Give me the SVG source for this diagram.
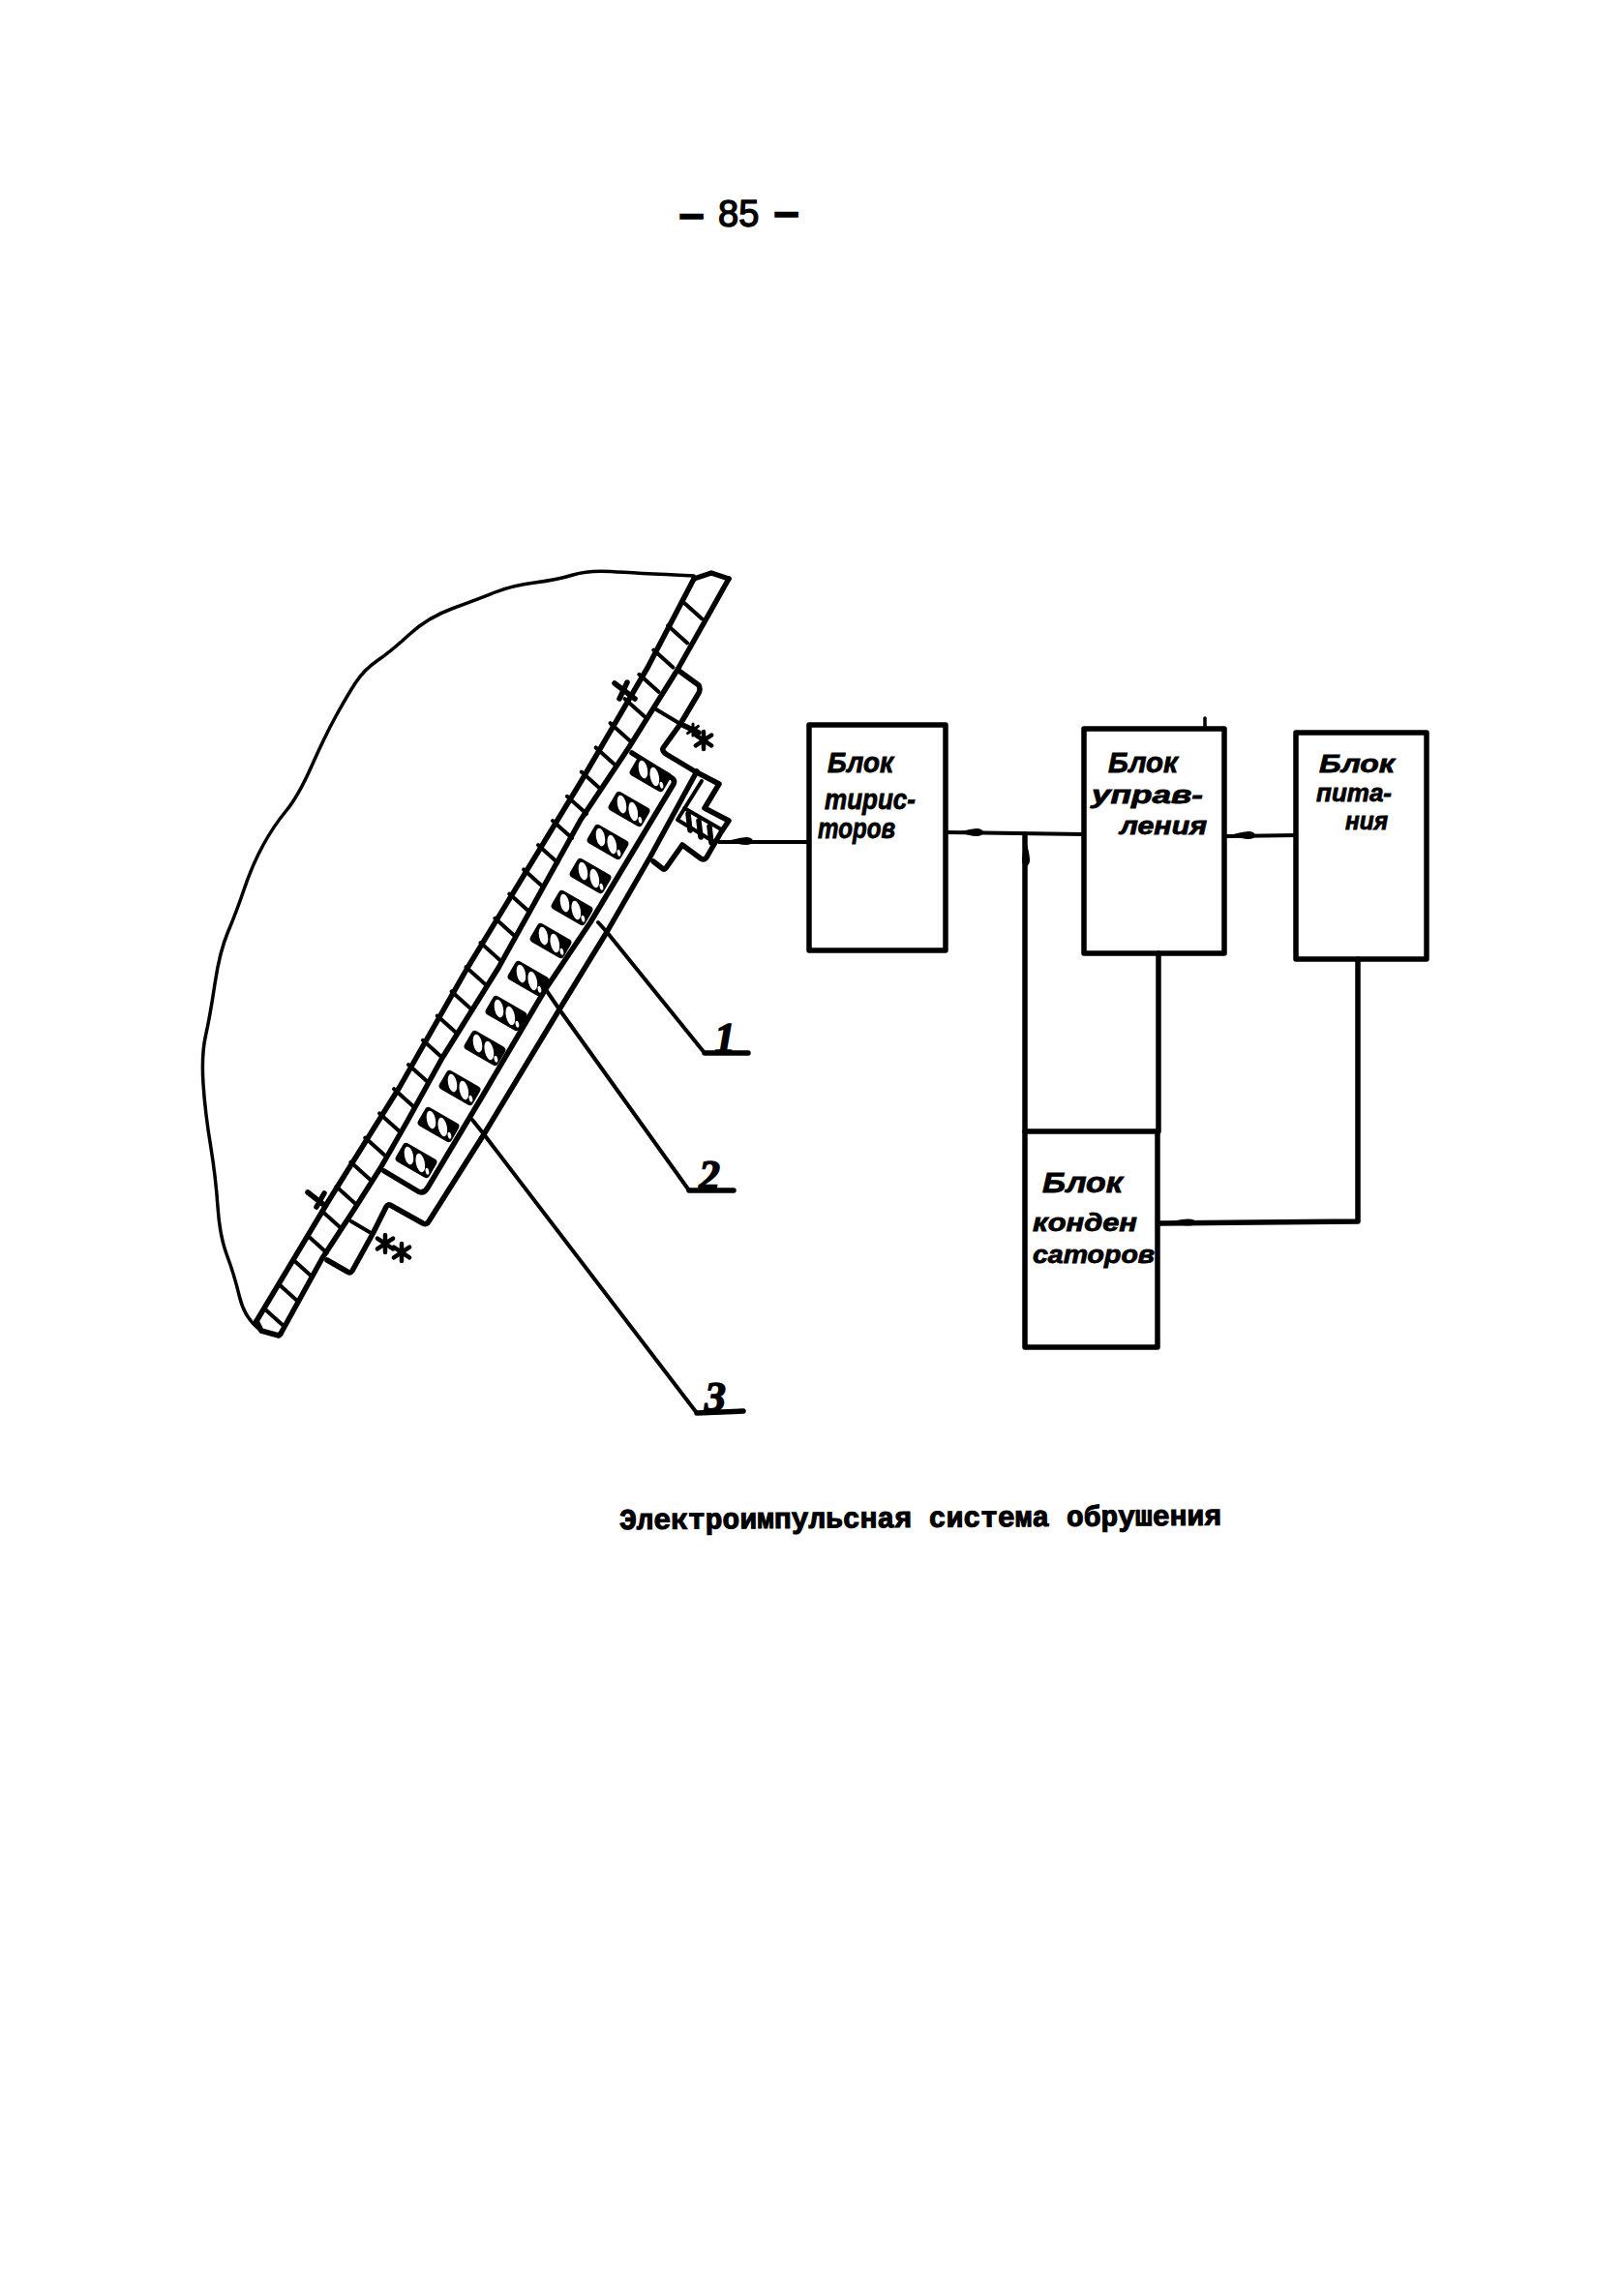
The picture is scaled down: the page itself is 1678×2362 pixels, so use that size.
<svg xmlns="http://www.w3.org/2000/svg" width="1678" height="2362" viewBox="0 0 1678 2362">
<style>
.l{fill:none;stroke:#000;stroke-linejoin:round;stroke-linecap:round}
.w{stroke-width:5.5}
.t{stroke-width:4}
.n{stroke-width:3.5}
.box{fill:none;stroke:#000;stroke-width:5.5;stroke-linejoin:round}
.h{font-family:"Liberation Sans","DejaVu Sans",sans-serif;font-weight:700;font-style:italic;font-size:30px;fill:#000;stroke:#000;stroke-width:.8}
.s{font-size:26px}
.d{font-family:"Liberation Serif","DejaVu Serif",serif;font-weight:700;font-style:italic;font-size:44px;fill:#000;stroke:#000;stroke-width:1.5}
.p{font-family:"Liberation Sans","DejaVu Sans",sans-serif;font-size:38px;fill:#000;stroke:#000;stroke-width:1.4}
.pd{stroke-width:3.5}
.c{font-family:"Liberation Mono","DejaVu Sans Mono",monospace;font-weight:700;font-size:30px;fill:#000;stroke:#000;stroke-width:1.1}
</style>
<defs>
<g id="coil">
<rect x="-20" y="-11" width="40" height="22" rx="4" fill="#000"/>
<ellipse cx="-9" cy="-0.500" rx="4.500" ry="9.500" fill="#fff" transform="rotate(-42 -9 -0.500)"/>
<ellipse cx="5" cy="0" rx="4.500" ry="10" fill="#fff" transform="rotate(-42 5 0)"/>
<ellipse cx="15.500" cy="4" rx="1.800" ry="3.500" fill="#fff" transform="rotate(-42 15.500 4)"/>
</g>
<path id="lens" d="M-16 0Q-6 -4 0 -4.500Q5 -4.500 6 0Q5 4.500 0 4.500Q-6 4 -16 0Z" fill="#000"/>
<path id="star" d="M-9 -6L9 6M-9 6L9 -6M0 -10L0 10" fill="none" stroke="#000" stroke-width="5" stroke-linecap="round"/>
</defs>
<rect width="1678" height="2362" fill="#fff"/>

<g id="page-number">
<text class="p pd" x="704" y="234">–</text>
<text class="p" x="742" y="234">85</text>
<text class="p pd" x="802" y="232">–</text>
</g>

<g id="rock">
<path class="l n" d="M717 595Q654 592 631 590.500Q608 589 592 594Q576 599 552.500 602Q529 605 511.500 612Q494 619 468 628.500Q442 638 423 655.500Q404 673 390 682.500Q376 692 367 706Q358 720 347 740Q336 760 322 791.500Q308 823 295.500 838Q283 853 272 873Q261 893 252.500 918Q244 943 235.500 963Q227 983 222 1016.500Q217 1050 212.500 1070Q208 1090 210 1120Q212 1150 217.500 1183Q223 1217 225 1247Q227 1277 234.500 1297Q242 1317 247.500 1340Q253 1363 270 1375"/>
</g>

<g id="wall">
<path class="l w" d="M265 1365L340 1240L413 1123L483 1000L600 808L669 690L717 598"/>
<path class="l w" d="M290 1378L333 1300L367 1248L393 1207L420 1160L457 1093L515 1000L600 847L650 772L700 692L739 623L753 598"/>
<path class="l w" d="M265 1365L270 1375L288 1380L290 1378M717 598L735 592L753 598"/>
<path class="l t" d="M273 1352l20 18m-5.100 -43.200l20 18m-5.100 -43.200l20 18m-5.100 -43.200l20 18m-5.100 -43.200l20 18m-5.100 -43.200l20 18m-5.100 -43.200l20 18m-5.100 -43.200l20 18m-5.100 -43.200l20 18m-5.100 -43.200l20 18m-5.100 -43.200l20 18m-5.100 -43.200l20 18m-5.100 -43.200l20 18m-5.100 -43.200l20 18m-5.100 -43.200l20 18m-5.100 -43.200l20 18m-5.100 -43.200l20 18m-5.100 -43.200l20 18m-5.100 -43.200l20 18m-5.100 -43.200l20 18m-5.100 -43.200l20 18m-5.100 -43.200l20 18m-5.100 -43.200l20 18m-5.100 -43.200l20 18m-5.100 -43.200l20 18m-5.100 -43.200l20 18m-5.100 -43.200l20 18m-5.100 -43.200l20 18m-5.100 -43.200l20 18m-5.100 -43.200l20 18"/>
</g>

<g id="housing">
<path class="l w" d="M700 692L722 708Q724 712 722 716L703 748L685 773Q684 776 688 779L718 797L743 810L728 835L753 848L745 860L730 886Q728 889 724 887L705 873L688 897Q686 899 684 897L675 890"/>
<path class="l w" d="M720 797L672 885L627 963L578 1043L500 1172L443 1262Q441 1266 437 1264L403 1245Q401 1244 399 1247L385 1275L364 1313Q362 1316 359 1314L338 1302"/>
<path class="l t" d="M678 733L703 748M363 1262L385 1275"/>
<path class="l w" d="M653 778L693 803Q698 806 696 810L610 953L563 1023L500 1130L442 1227Q438 1234 432 1231L397 1210"/>
</g>

<g id="terminal">
<path class="l t" d="M725 807L700 847L738 870M707 835L747 858"/>
<path class="l w" d="M711 841L713 858M722 848L724 865M733 854L735 871"/>
</g>

<g id="coils">
<use href="#coil" transform="translate(430 1199) rotate(30)"/>
<use href="#coil" transform="translate(453 1162) rotate(30)"/>
<use href="#coil" transform="translate(475 1124) rotate(30)"/>
<use href="#coil" transform="translate(501 1083) rotate(30)"/>
<use href="#coil" transform="translate(523 1047) rotate(30)"/>
<use href="#coil" transform="translate(546 1011) rotate(30)"/>
<use href="#coil" transform="translate(569 972) rotate(30)"/>
<use href="#coil" transform="translate(591 938) rotate(30)"/>
<use href="#coil" transform="translate(610 905) rotate(30)"/>
<use href="#coil" transform="translate(628 870) rotate(30)"/>
<use href="#coil" transform="translate(650 836) rotate(30)"/>
<use href="#coil" transform="translate(672 800) rotate(30)"/>
</g>

<g id="bolts">
<path class="l w" d="M635 706L656 722M648 705L640 722"/>
<path class="l w" d="M703 748L722 757"/>
<use href="#star" transform="translate(727 765) scale(.9)"/>
<use href="#star" transform="translate(716 754) scale(.6)"/>
<path class="l w" d="M318 1232L336 1246M335 1233L327 1247"/>
<use href="#star" transform="translate(398 1285) scale(.9)"/>
<use href="#star" transform="translate(415 1294) scale(.9)"/>
</g>

<g id="leaders">
<path class="l t" d="M618 953L627 963L728 1088"/>
<path class="l t" d="M565 1024L578 1043L712 1230"/>
<path class="l t" d="M488 1157L500 1172L720 1460"/>
<path class="l w" d="M712 1230L758 1230M720 1460L768 1458M728 1088L773 1088"/>
<text class="d" x="738" y="1087">1</text>
<text class="d" x="722" y="1229">2</text>
<text class="d" x="728" y="1458">3</text>
</g>

<g id="connectors">
<path class="l t" d="M743 870L836 870"/>
<use href="#lens" transform="translate(771 869) scale(1.2 .9)"/>
<path class="l t" d="M977 860L1120 862"/>
<use href="#lens" transform="translate(1009 860) scale(1.2 .9)"/>
<path class="l t" d="M1265 864L1339 863"/>
<use href="#lens" transform="translate(1290 863) scale(1.2 .9)"/>
<path class="l w" d="M1059 862L1059 1169"/>
<use href="#lens" transform="translate(1060 888) rotate(90) scale(1.2 .9)"/>
<path class="l w" d="M1197 985L1197 1169"/>
<path class="l w" d="M1403 991L1403 1262L1198 1264"/>
<use href="#lens" transform="translate(1228 1263) scale(1.4 .8)"/>
</g>

<g id="block-thyristors">
<rect class="box" x="836" y="749" width="141" height="233"/>
<text class="h" x="855" y="798" textLength="68" lengthAdjust="spacingAndGlyphs">Блок</text>
<text class="h" x="852" y="836" textLength="94" lengthAdjust="spacingAndGlyphs">тирис-</text>
<text class="h" x="845" y="866" textLength="80" lengthAdjust="spacingAndGlyphs">торов</text>
</g>
<g id="block-control">
<path class="l n" d="M1245 742L1245 753"/>
<rect class="box" x="1120" y="753" width="145" height="232"/>
<text class="h" x="1145" y="798" textLength="72" lengthAdjust="spacingAndGlyphs">Блок</text>
<text class="h s" x="1128" y="830" textLength="115" lengthAdjust="spacingAndGlyphs">управ-</text>
<text class="h s" x="1157" y="862" textLength="90" lengthAdjust="spacingAndGlyphs">ления</text>
</g>
<g id="block-power">
<rect class="box" x="1339" y="757" width="135" height="234"/>
<text class="h s" x="1363" y="798" textLength="78" lengthAdjust="spacingAndGlyphs">Блок</text>
<text class="h s" x="1360" y="828" textLength="78" lengthAdjust="spacingAndGlyphs">пита-</text>
<text class="h s" x="1390" y="857" textLength="44" lengthAdjust="spacingAndGlyphs">ния</text>
</g>
<g id="block-capacitors">
<rect class="box" x="1059" y="1169" width="137" height="223"/>
<text class="h" x="1077" y="1232" textLength="83" lengthAdjust="spacingAndGlyphs">Блок</text>
<text class="h s" x="1067" y="1272" textLength="108" lengthAdjust="spacingAndGlyphs">конден</text>
<text class="h s" x="1067" y="1305" textLength="126" lengthAdjust="spacingAndGlyphs">саторов</text>
</g>

<g id="caption">
<text class="c" x="640" y="1580" textLength="622" lengthAdjust="spacingAndGlyphs" transform="rotate(-.4 640 1580)">Электроимпульсная система обрушения</text>
</g>
</svg>
